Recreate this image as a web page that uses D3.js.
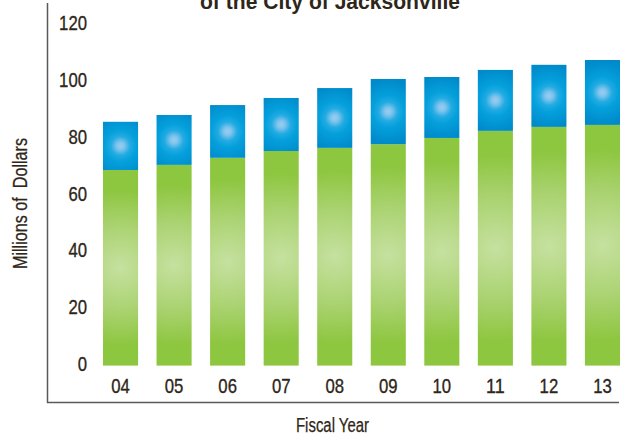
<!DOCTYPE html>
<html>
<head>
<meta charset="utf-8">
<script src="https://cdn.jsdelivr.net/npm/d3@7"></script>
<style>
  html, body { margin: 0; padding: 0; background: #fff; }
  svg { display: block; }
  text { font-family: "Liberation Sans", Arial, sans-serif; fill: #2e2619; }
</style>
</head>
<body>
<svg id="chart" width="625" height="435"></svg>
<script>
const categories = ["04", "05", "06", "07", "08", "09", "10", "11", "12", "13"];
const greenValues = [69.0, 70.8, 73.3, 75.7, 76.8, 78.1, 80.3, 82.8, 84.2, 84.9];
const blueValues  = [17.0, 17.6, 18.6, 18.7, 21.1, 23.0, 21.5, 21.5, 21.9, 22.9];
const yTicks = [0, 20, 40, 60, 80, 100, 120];
const titleText = "of the City of Jacksonville";
const yTitle = "Millions of  Dollars";
const xTitle = "Fiscal Year";

const svg = d3.select("#chart");
const x = d3.scaleBand().domain(categories).range([103, 620]).paddingInner(0.345).paddingOuter(0);
const y = d3.scaleLinear().domain([0, 120]).range([365.6, 25.4]);

const defs = svg.append("defs");
const data = categories.map((c, i) => ({ c, g: greenValues[i], b: blueValues[i] }));

data.forEach((d, i) => {
  const cx = x(d.c) + x.bandwidth() / 2;
  const gTop = y(d.g), gBot = y(0);
  const gg = defs.append("radialGradient").attr("id", "gg" + i)
    .attr("gradientUnits", "userSpaceOnUse")
    .attr("cx", cx).attr("cy", (gTop + gBot) / 2).attr("r", (gBot - gTop) / 2);
  gg.append("stop").attr("offset", 0).attr("stop-color", "#c6e1a0");
  gg.append("stop").attr("offset", 0.45).attr("stop-color", "#a9d26f");
  gg.append("stop").attr("offset", 0.8).attr("stop-color", "#8dc63f");
  gg.append("stop").attr("offset", 1).attr("stop-color", "#8dc63f");

  const bTop = y(d.g + d.b), bBot = y(d.g);
  const bg = defs.append("radialGradient").attr("id", "bg" + i)
    .attr("gradientUnits", "userSpaceOnUse")
    .attr("cx", cx).attr("cy", (bTop + bBot) / 2).attr("r", 32);
  bg.append("stop").attr("offset", 0).attr("stop-color", "#9acdef");
  bg.append("stop").attr("offset", 0.12).attr("stop-color", "#80c4ed");
  bg.append("stop").attr("offset", 0.3).attr("stop-color", "#22abe2");
  bg.append("stop").attr("offset", 0.5).attr("stop-color", "#04a0dc");
  bg.append("stop").attr("offset", 1).attr("stop-color", "#008aca");
});

svg.append("g").selectAll("rect").data(data).join("rect")
  .attr("x", d => x(d.c)).attr("width", x.bandwidth())
  .attr("y", d => y(d.g)).attr("height", d => y(0) - y(d.g))
  .attr("fill", (d, i) => `url(#gg${i})`);
svg.append("g").selectAll("rect").data(data).join("rect")
  .attr("x", d => x(d.c)).attr("width", x.bandwidth())
  .attr("y", d => y(d.g + d.b)).attr("height", d => y(d.g) - y(d.g + d.b))
  .attr("fill", (d, i) => `url(#bg${i})`);

svg.append("line").attr("x1", 47.5).attr("x2", 47.5).attr("y1", 3).attr("y2", 403)
  .attr("stroke", "#5a5a5a").attr("stroke-width", 1.5);
svg.append("line").attr("x1", 47).attr("x2", 619).attr("y1", 402.5).attr("y2", 402.5)
  .attr("stroke", "#5a5a5a").attr("stroke-width", 1.5);

const digitW = 9.3;
const yAxis = d3.axisLeft(y).tickValues(yTicks).tickSize(0).tickPadding(0).tickFormat(d3.format("d"));
const ya = svg.append("g").attr("transform", "translate(87,-2.2)").call(yAxis);
ya.select(".domain").remove();
ya.selectAll("text").attr("font-size", 21).attr("fill", "#2e2619")
  .attr("stroke", "#2e2619").attr("stroke-width", 0.35)
  .style("font-family", '"Liberation Sans", Arial, sans-serif')
  .attr("textLength", function() { return this.textContent.length * digitW; })
  .attr("lengthAdjust", "spacingAndGlyphs");

const xAxis = d3.axisBottom(x).tickSize(0).tickPadding(0);
const xa = svg.append("g").attr("transform", "translate(0,378)").call(xAxis);
xa.select(".domain").remove();
xa.selectAll("text").attr("font-size", 21).attr("dy", "0.71em").attr("fill", "#2e2619")
  .attr("stroke", "#2e2619").attr("stroke-width", 0.35)
  .style("font-family", '"Liberation Sans", Arial, sans-serif')
  .attr("textLength", function() { return this.textContent.length * digitW; })
  .attr("lengthAdjust", "spacingAndGlyphs");

svg.append("text").attr("x", 330).attr("y", 8.5).attr("text-anchor", "middle")
  .attr("font-size", 22).attr("font-weight", "bold")
  .attr("textLength", 260).attr("lengthAdjust", "spacingAndGlyphs")
  .text(titleText);

svg.append("text").attr("transform", "translate(26.5,203.5) rotate(-90)")
  .attr("text-anchor", "middle").attr("font-size", 20)
  .attr("stroke", "#2e2619").attr("stroke-width", 0.25)
  .attr("textLength", 131).attr("lengthAdjust", "spacingAndGlyphs")
  .style("white-space", "pre")
  .text(yTitle);

svg.append("text").attr("x", 332.5).attr("y", 431.5).attr("text-anchor", "middle")
  .attr("font-size", 20)
  .attr("stroke", "#2e2619").attr("stroke-width", 0.25)
  .attr("textLength", 73).attr("lengthAdjust", "spacingAndGlyphs")
  .text(xTitle);
</script>
</body>
</html>
